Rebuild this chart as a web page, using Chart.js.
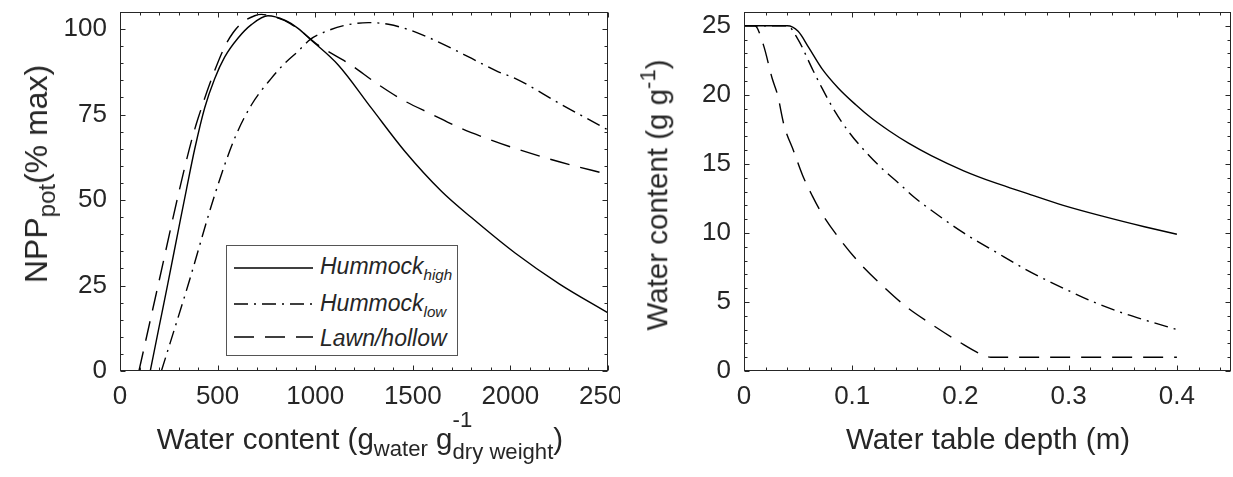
<!DOCTYPE html>
<html>
<head>
<meta charset="utf-8">
<script src="https://cdn.jsdelivr.net/npm/chart.js@4/dist/chart.umd.min.js"></script>
<style>
  html, body { margin: 0; padding: 0; background: #fff; }
  #wrap { position: relative; width: 1233px; height: 477px; overflow: hidden;
          font-family: "Liberation Sans", Arial, sans-serif; color: #262626; }
  canvas { position: absolute; top: 0; }
  .title { position: absolute; white-space: nowrap; font-size: 29.5px; line-height: 1; }
  .htitle { transform: translate(-50%, 0); }
  .vtitle { transform: translate(-50%, -50%) rotate(-90deg); }
  sub { font-size: 0.75em; line-height: 0; vertical-align: -0.32em; }
  sup { font-size: 0.75em; line-height: 0; vertical-align: 0.55em; }
  .stack { display: inline-block; position: relative; }
  .stack .sp { position: absolute; left: 0; top: -0.7em; font-size: 0.75em; }
  .stack .sb { display: inline-block; font-size: 0.75em; position: relative; top: 0.45em; }
  #legend { position: absolute; left: 226px; top: 245px; width: 230px; height: 109px;
            border: 1px solid #555; background: #fff; }
  #legend svg { position: absolute; left: 7px; }
  #legend .lab { position: absolute; left: 93px; font-style: italic; font-size: 23px;
                 line-height: 1; white-space: nowrap; color: #262626; }
  #legend .lab sub { font-size: 0.66em; vertical-align: -0.4em; }
</style>
</head>
<body>
<div id="wrap">
  <canvas id="left" width="620" height="477" style="left:0"></canvas>
  <canvas id="right" width="613" height="477" style="left:620px"></canvas>
  <div class="title vtitle" style="left:36px; top:174px; font-size:32px">NPP<sub>pot</sub>(% max)</div>
  <div class="title htitle" style="left:360px; top:424px">Water content (g<sub>water</sub> g<span class="stack"><span class="sp">-1</span><span class="sb">dry weight</span></span>)</div>
  <div class="title vtitle" style="left:657px; top:195px">Water content (g g<sup>-1</sup>)</div>
  <div class="title htitle" style="left:988px; top:424px">Water table depth (m)</div>
  <div id="legend"></div>
</div>
<script>
// left panel: NPP_pot vs water content
var leftXTicks = [0, 500, 1000, 1500, 2000, 2500];
var leftYTicks = [0, 25, 50, 75, 100];

var highX = [155, 200, 243, 300, 340, 383, 434, 485, 536, 605, 673, 758, 844, 912, 975, 1118, 1289, 1460, 1648, 1802, 2024, 2250, 2500];
var highY = [0, 12.8, 25, 41.5, 53, 65, 77, 85.5, 91.8, 97.4, 101.3, 103.9, 102.6, 100.2, 97, 89.5, 76.8, 64.2, 52.5, 44.8, 34.5, 25.5, 17];

var lowX = [212, 348, 488, 587, 673, 775, 844, 912, 975, 1050, 1153, 1272, 1375, 1511, 1665, 1802, 1938, 2024, 2250, 2500];
var lowY = [0, 25, 52, 68, 77.8, 85.6, 90, 93.5, 97, 99.2, 101.1, 101.9, 101.4, 99.2, 95.3, 91.4, 87.5, 85.6, 78.3, 70.5];

var lawnX = [97, 200, 302, 365, 400, 476, 536, 580, 622, 690, 724, 800, 870, 930, 1016, 1178, 1315, 1451, 1597, 1745, 1899, 2024, 2250, 2500];
var lawnY = [0, 26.3, 52.4, 67.1, 73.9, 86.5, 94.8, 99, 101.7, 103.9, 104.3, 103.4, 101.7, 99.3, 95.3, 89.7, 84.1, 79.2, 75.1, 71, 67.6, 65.1, 61.2, 57.5];

// right panel: water content vs water table depth
var rightXTicks = [0, 0.1, 0.2, 0.3, 0.4];
var rightYTicks = [0, 5, 10, 15, 20, 25];

var depthHighX = [0, 0.04, 0.05, 0.06, 0.072, 0.087, 0.103, 0.118, 0.134, 0.152, 0.173, 0.203, 0.233, 0.26, 0.295, 0.332, 0.37, 0.4];
var depthHighY = [25, 25, 24.6, 23.4, 21.9, 20.5, 19.3, 18.3, 17.4, 16.5, 15.6, 14.5, 13.6, 12.9, 12.0, 11.2, 10.45, 9.9];

var depthLowX = [0, 0.04, 0.05, 0.063, 0.072, 0.084, 0.097, 0.112, 0.127, 0.143, 0.157, 0.172, 0.203, 0.233, 0.264, 0.295, 0.326, 0.35, 0.37, 0.4];
var depthLowY = [25, 25, 24, 21.9, 20.5, 18.8, 17.3, 15.9, 14.7, 13.6, 12.6, 11.7, 10, 8.6, 7.2, 6, 4.9, 4.2, 3.7, 3.0];

var depthLawnX = [0, 0.01, 0.018, 0.026, 0.031, 0.037, 0.046, 0.054, 0.063, 0.072, 0.089, 0.107, 0.129, 0.15, 0.173, 0.199, 0.221, 0.228, 0.4];
var depthLawnY = [25, 25, 23.6, 21.2, 20, 17.8, 15.9, 14.2, 12.7, 11.4, 9.5, 7.8, 6.1, 4.65, 3.4, 2.1, 1.15, 1.0, 1.0];

var seriesNames = ["Hummock", "Hummock", "Lawn/hollow"];
var seriesSubs = ["high", "low", ""];
var seriesDash = [[], [14, 6, 2, 6], [20, 11]];

var ink = "#262626";
var tickFont = { family: "'Liberation Sans', Arial, sans-serif", size: 26 };

function points(xs, ys) {
  return xs.map(function (x, i) { return { x: x, y: ys[i] }; });
}

function dataset(i, xs, ys) {
  return {
    label: seriesNames[i] + seriesSubs[i],
    data: points(xs, ys),
    borderColor: "#000",
    borderWidth: 1.4,
    borderDash: seriesDash[i],
    pointRadius: 0,
    fill: false,
    cubicInterpolationMode: "monotone",
  };
}

// box round the plot with small inward ticks on all four sides
var boxTicks = {
  id: "boxTicks",
  afterDraw: function (chart, args, opts) {
    var ctx = chart.ctx, a = chart.chartArea;
    var sx = chart.scales.x, sy = chart.scales.y;
    ctx.save();
    ctx.strokeStyle = ink;
    ctx.lineWidth = 1;
    var L = Math.round(a.left) + 0.5, R = Math.round(a.right) - 0.5;
    var T = Math.round(a.top) + 0.5, B = Math.round(a.bottom) - 0.5;
    ctx.strokeRect(L, T, R - L, B - T);
    function marks(scale, minor, major, isX) {
      var n = Math.floor((scale.max - scale.min) / minor + 1e-6);
      for (var i = 0; i <= n; i++) {
        var v = scale.min + i * minor;
        var r = v / major;
        var len = Math.abs(r - Math.round(r)) < 1e-6 ? 5 : 3;
        var p = Math.round(scale.getPixelForValue(v)) + 0.5;
        ctx.beginPath();
        if (isX) {
          ctx.moveTo(p, B); ctx.lineTo(p, B - len);
          ctx.moveTo(p, T); ctx.lineTo(p, T + len);
        } else {
          ctx.moveTo(L, p); ctx.lineTo(L + len, p);
          ctx.moveTo(R, p); ctx.lineTo(R - len, p);
        }
        ctx.stroke();
      }
    }
    marks(sx, opts.xMinor, opts.xMajor, true);
    marks(sy, opts.yMinor, opts.yMajor, false);
    ctx.restore();
  },
};

function axis(min, max, tickValues, fitSize, isX) {
  return {
    type: "linear",
    min: min,
    max: max,
    grid: { display: false, drawTicks: false },
    border: { display: false },
    afterBuildTicks: function (scale) {
      scale.ticks = tickValues.map(function (v) { return { value: v }; });
    },
    afterFit: function (scale) {
      if (isX) scale.height = fitSize; else scale.width = fitSize;
      // let the end labels hang over the edge like the original figure
      scale.paddingLeft = scale.paddingRight = scale.paddingTop = scale.paddingBottom = 0;
    },
    ticks: {
      autoSkip: false,
      maxRotation: 0,
      color: ink,
      font: tickFont,
      padding: isX ? 10 : 13,
      callback: function (v) { return String(v); },
    },
  };
}

function options(padRight, xs, ys, ticksCfg) {
  return {
    responsive: false,
    animation: false,
    layout: { padding: { top: 12, right: padRight, left: 0, bottom: 0 } },
    scales: { x: xs, y: ys },
    plugins: {
      legend: { display: false },
      tooltip: { enabled: false },
      boxTicks: ticksCfg,
    },
  };
}

var leftChart = new Chart(document.getElementById("left").getContext("2d"), {
  type: "line",
  data: {
    datasets: [
      dataset(0, highX, highY),
      dataset(1, lowX, lowY),
      dataset(2, lawnX, lawnY),
    ],
  },
  options: options(12,
    axis(0, 2500, leftXTicks, 106, true),
    axis(0, 105, leftYTicks, 120, false),
    { xMinor: 100, xMajor: 500, yMinor: 5, yMajor: 25 }),
  plugins: [boxTicks],
});

var rightChart = new Chart(document.getElementById("right").getContext("2d"), {
  type: "line",
  data: {
    datasets: [
      dataset(0, depthHighX, depthHighY),
      dataset(1, depthLowX, depthLowY),
      dataset(2, depthLawnX, depthLawnY),
    ],
  },
  options: options(2,
    axis(0, 0.45, rightXTicks, 106, true),
    axis(0, 26, rightYTicks, 124, false),
    { xMinor: 0.02, xMajor: 0.1, yMinor: 1, yMajor: 5 }),
  plugins: [boxTicks],
});

// legend box in the left panel, built from the datasets
var legend = document.getElementById("legend");
var rowLine = [22, 58, 91];
var rowBase = [28, 65, 100];
leftChart.data.datasets.forEach(function (ds, i) {
  var svg = '<svg width="80" height="6" style="top:' + (rowLine[i] - 3) + 'px">' +
    '<line x1="0" y1="3" x2="79" y2="3" stroke="#000" stroke-width="1.4" stroke-dasharray="' +
    (ds.borderDash.length ? ds.borderDash.join(",") : "none") + '"/></svg>';
  var sub = seriesSubs[i] ? "<sub>" + seriesSubs[i] + "</sub>" : "";
  var lab = '<div class="lab" style="top:' + (rowBase[i] - 19.5) + 'px">' + seriesNames[i] + sub + "</div>";
  legend.insertAdjacentHTML("beforeend", svg + lab);
});
</script>
</body>
</html>
